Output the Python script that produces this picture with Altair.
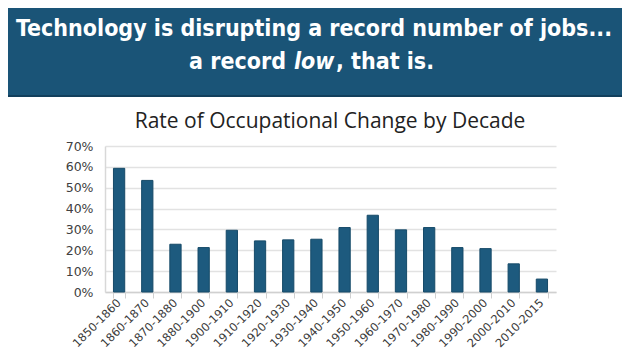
import altair as alt
import pandas as pd

decades = ["1850-1860", "1860-1870", "1870-1880", "1880-1900", "1900-1910", "1910-1920",
           "1920-1930", "1930-1940", "1940-1950", "1950-1960", "1960-1970", "1970-1980",
           "1980-1990", "1990-2000", "2000-2010", "2010-2015"]
rates = [0.593, 0.535, 0.229, 0.213, 0.296, 0.245, 0.250, 0.253, 0.309, 0.368, 0.298,
         0.309, 0.213, 0.208, 0.135, 0.062]

headline_1 = "Technology is disrupting a record number of jobs..."
headline_2 = ["a record", "low", ", that is."]
chart_title = "Rate of Occupational Change by Decade"

df = pd.DataFrame({"decade": decades, "rate": rates})
one = pd.DataFrame({"k": [0]})

W, H = 451, 146
PL, PT = 97, 138
TOTAL_W, TOTAL_H = 614, 343
HEAD = "#1a5477"
HFONT = "DejaVu Sans Condensed"

bars = alt.Chart(df).mark_bar(color="#1d5a7e", stroke="#164a68", strokeWidth=1).encode(
    x=alt.X("decade:N", sort=decades, title=None,
            scale=alt.Scale(paddingInner=0.6, paddingOuter=0.3),
            axis=alt.Axis(labelAngle=315, labelAlign="right", labelBaseline="middle",
                          labelFontSize=11.5, labelColor="#3a3a3a", labelFont="DejaVu Sans",
                          labelPadding=3, tickBand="extent", tickColor="#d0d0d0",
                          tickSize=6, domainColor="#d0d0d0", domainWidth=1.5, grid=False)),
    y=alt.Y("rate:Q", title=None,
            scale=alt.Scale(domain=[0, 0.7]),
            axis=alt.Axis(format=".0%", values=[0, 0.1, 0.2, 0.3, 0.4, 0.5, 0.6, 0.7],
                          labelFontSize=12.5, labelColor="#404040", labelFont="DejaVu Sans",
                          ticks=False, labelPadding=12, domainColor="#d8d8d8", domainWidth=1.5,
                          gridColor="#e2e2e2", gridWidth=1.5)),
)

header_rect = alt.Chart(one).mark_rect(color=HEAD).encode(
    x=alt.value(-PL), x2=alt.value(TOTAL_W - PL),
    y=alt.value(-PT), y2=alt.value(88 - PT),
)
header_line = alt.Chart(one).mark_rule(color="#123f5c", strokeWidth=2).encode(
    x=alt.value(-PL), x2=alt.value(TOTAL_W - PL), y=alt.value(88 - PT),
)

def htext(txt, x, y, align, italic=False):
    return alt.Chart(one).mark_text(
        text=txt, font=HFONT, fontSize=23, fontWeight="bold",
        fontStyle="italic" if italic else "normal", color="white",
        align=align, baseline="alphabetic",
    ).encode(x=alt.value(x - 8 - PL), y=alt.value(y - 8 - PT))

h1 = htext(headline_1, 314, 36, "center")
h2a = htext(headline_2[0], 286, 69, "right")
h2b = htext(headline_2[1], 294, 69, "left", italic=True)
h2c = htext(headline_2[2], 336, 69, "left")

title = alt.Chart(one).mark_text(
    text=chart_title, font="Open Sans", fontSize=21, color="#222222",
    align="center", baseline="middle",
).encode(x=alt.value(330 - 8 - PL), y=alt.value(122 - 8 - PT))

chart = alt.layer(header_rect, header_line, h1, h2a, h2b, h2c, title, bars).properties(
    width=W, height=H,
    autosize=alt.AutoSizeParams(type="none"),
    padding={"left": PL, "top": PT, "right": TOTAL_W - PL - W, "bottom": TOTAL_H - PT - H},
    background="white",
).configure_view(stroke=None)

chart.save("out.html", embed_options={"renderer": "svg", "actions": False})
